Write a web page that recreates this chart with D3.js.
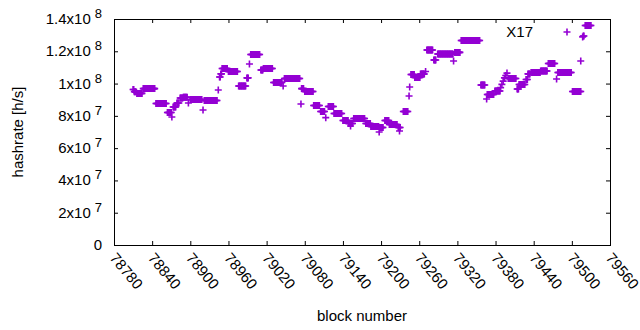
<!DOCTYPE html>
<html>
<head>
<meta charset="utf-8">
<script src="https://cdn.jsdelivr.net/npm/d3@7"></script>
<style>
  body { margin: 0; background: #fff; }
  text { font-family: "Liberation Sans", Arial, sans-serif; fill: #000; }
</style>
</head>
<body>
<svg id="chart"></svg>
<script>
// runs of blocks that share one hashrate value (single points have from == to)
const blockFrom = [78810, 78812, 78816, 78826, 78846, 78864, 78871, 78873, 78879, 78884,
    78889, 78897, 78900, 78920, 78922, 78944, 78946, 78948, 78950, 78960,
    78976, 78989, 78993, 78995, 79011, 79015, 79031, 79046, 79048, 79074,
    79075, 79080, 79094, 79105, 79113, 79117, 79126, 79140, 79149, 79152,
    79157, 79176, 79184, 79197, 79198, 79206, 79213, 79227, 79229, 79235,
    79244, 79245, 79247, 79253, 79262, 79270, 79272, 79283, 79289, 79314,
    79316, 79326, 79357, 79366, 79367, 79379, 79388, 79390, 79392, 79394,
    79396, 79398, 79400, 79414, 79417, 79428, 79431, 79436, 79451, 79463,
    79476, 79478, 79501, 79514, 79517, 79518, 79521];
const blockTo = [78811, 78814, 78824, 78844, 78862, 78870, 78871, 78877, 78882, 78888,
    78895, 78897, 78918, 78920, 78942, 78944, 78947, 78949, 78958, 78974,
    78987, 78991, 78993, 79009, 79014, 79029, 79044, 79046, 79072, 79074,
    79078, 79093, 79103, 79111, 79113, 79125, 79138, 79148, 79155, 79152,
    79174, 79183, 79196, 79197, 79203, 79212, 79225, 79230, 79229, 79242,
    79244, 79245, 79252, 79261, 79268, 79270, 79281, 79286, 79313, 79314,
    79324, 79355, 79363, 79366, 79377, 79387, 79388, 79390, 79392, 79394,
    79396, 79398, 79412, 79416, 79426, 79430, 79434, 79450, 79461, 79473,
    79476, 79499, 79514, 79514, 79517, 79519, 79530];
const hashrate = [96.3e6, 95.0e6, 93.9e6, 96.9e6, 87.7e6, 82.1e6, 79.3e6, 85.5e6, 88.0e6, 91.1e6,
    91.5e6, 88.0e6, 90.1e6, 83.6e6, 89.5e6, 96.0e6, 104.1e6, 106.0e6, 109.3e6, 107.5e6,
    98.5e6, 103.5e6, 112.1e6, 118.0e6, 108.4e6, 109.3e6, 100.7e6, 98.5e6, 103.1e6, 87.3e6,
    96.9e6, 95.1e6, 86.4e6, 82.7e6, 78.9e6, 85.8e6, 81.5e6, 77.1e6, 75.3e6, 73.7e6,
    78.4e6, 75.3e6, 73.4e6, 70.0e6, 72.8e6, 77.1e6, 74.6e6, 72.8e6, 70.6e6, 82.7e6,
    92.3e6, 97.9e6, 105.6e6, 103.8e6, 105.9e6, 107.5e6, 120.8e6, 114.6e6, 118.3e6, 114.0e6,
    119.3e6, 126.7e6, 99.1e6, 90.4e6, 93.2e6, 95.4e6, 97.5e6, 99.5e6, 101.5e6, 103.5e6,
    105.0e6, 106.5e6, 103.1e6, 96.6e6, 99.4e6, 102.5e6, 106.0e6, 106.9e6, 107.8e6, 112.4e6,
    102.8e6, 106.9e6, 95.1e6, 114.0e6, 128.9e6, 129.5e6, 136.0e6];

const xTicks = [78780, 78840, 78900, 78960, 79020, 79080, 79140, 79200, 79260, 79320, 79380, 79440, 79500, 79560];
const yTicks = [0, 2e7, 4e7, 6e7, 8e7, 1e8, 1.2e8, 1.4e8];
const seriesName = "X17";

const width = 640, height = 330;
const plotL = 114, plotR = 610, plotT = 19, plotB = 245;
const color = "#9400d3";

const svg = d3.select("#chart").attr("width", width).attr("height", height);

const x = d3.scaleLinear().domain([78780, 79560]).range([plotL, plotR]);
const y = d3.scaleLinear().domain([0, 1.4e8]).range([plotB, plotT]);

// expand runs into one point per block
const points = [];
blockFrom.forEach((b0, i) => {
    for (let b = b0; b <= blockTo[i]; b++) points.push({ block: b, rate: hashrate[i] });
});

const crossPath = "M-3.5,0H3.5M0,-3.5V3.5";

// axes with inward ticks, mirrored on top/right
svg.append("g")
    .attr("transform", `translate(0,${plotB})`)
    .call(d3.axisBottom(x).tickValues(xTicks).tickSize(-4).tickFormat(""))
    .call(g => g.select(".domain").remove());
svg.append("g")
    .attr("transform", `translate(0,${plotT})`)
    .call(d3.axisTop(x).tickValues(xTicks).tickSize(-4).tickFormat(""))
    .call(g => g.select(".domain").remove());
svg.append("g")
    .attr("transform", `translate(${plotL},0)`)
    .call(d3.axisLeft(y).tickValues(yTicks).tickSize(-4).tickFormat(""))
    .call(g => g.select(".domain").remove());
svg.append("g")
    .attr("transform", `translate(${plotR},0)`)
    .call(d3.axisRight(y).tickValues(yTicks).tickSize(-4).tickFormat(""))
    .call(g => g.select(".domain").remove());

svg.selectAll(".tick line").attr("stroke", "#000");

svg.append("rect")
    .attr("x", plotL + 0.5).attr("y", plotT + 0.5)
    .attr("width", plotR - plotL).attr("height", plotB - plotT)
    .attr("fill", "none").attr("stroke", "#000");

// y tick labels like 1.2x10^8
const yLab = svg.append("g").selectAll("text")
    .data(yTicks)
    .enter().append("text")
    .attr("x", 102)
    .attr("y", d => y(d) + 5)
    .attr("text-anchor", "end")
    .style("font-size", "15px");
yLab.each(function(d) {
    const t = d3.select(this);
    if (d === 0) { t.text("0"); return; }
    const exp = Math.floor(Math.log10(d));
    const mant = +(d / Math.pow(10, exp)).toFixed(1);
    t.append("tspan").text(mant + "x10");
    t.append("tspan").attr("dx", 4).attr("dy", -6).style("font-size", "13px").text(exp);
});

// rotated x tick labels
svg.append("g").selectAll("text")
    .data(xTicks)
    .enter().append("text")
    .attr("transform", d => `translate(${x(d) - 1},${plotB + 10}) rotate(50)`)
    .attr("text-anchor", "start")
    .attr("dy", "0.35em")
    .style("font-size", "15px")
    .text(d => d);

// axis titles
svg.append("text")
    .attr("transform", `translate(23,${(plotT + plotB) / 2}) rotate(-90)`)
    .attr("text-anchor", "middle")
    .style("font-size", "15px")
    .text("hashrate [h/s]");
svg.append("text")
    .attr("x", (plotL + plotR) / 2)
    .attr("y", 321)
    .attr("text-anchor", "middle")
    .style("font-size", "15px")
    .text("block number");

// points
svg.append("g").selectAll("path")
    .data(points)
    .enter().append("path")
    .attr("transform", d => `translate(${x(d.block)},${y(d.rate)})`)
    .attr("d", crossPath)
    .attr("stroke", color)
    .attr("stroke-width", 1.6)
    .attr("fill", "none");

// key
svg.append("text")
    .attr("x", 533)
    .attr("y", 37)
    .attr("text-anchor", "end")
    .style("font-size", "15px")
    .text(seriesName);
svg.append("path")
    .attr("transform", "translate(567,32)")
    .attr("d", crossPath)
    .attr("stroke", color)
    .attr("stroke-width", 1.6)
    .attr("fill", "none");
</script>
</body>
</html>
